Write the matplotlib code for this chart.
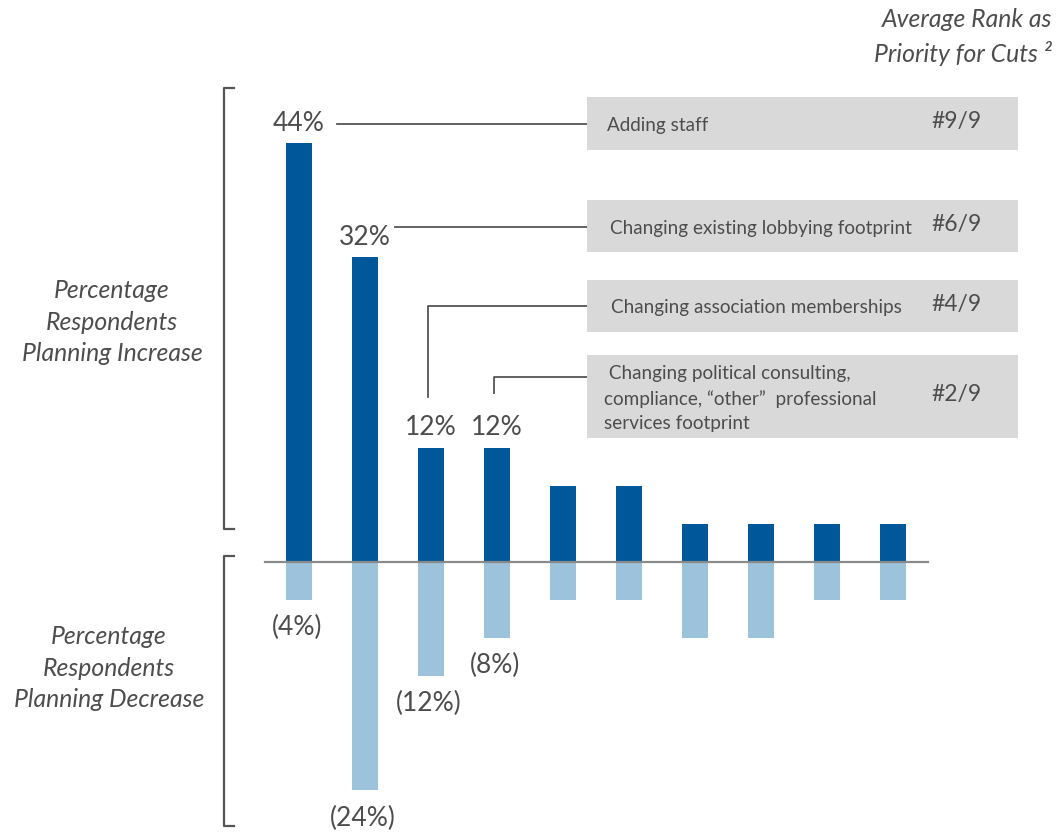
import matplotlib.pyplot as plt
from matplotlib.patches import Rectangle

# survey results, share of respondents (%)
increase = [44, 32, 12, 12, 8, 8, 4, 4, 4, 4]
decrease = [4, 24, 12, 8, 4, 4, 8, 8, 4, 4]
n_labelled = 4  # only the first four bars carry value labels

items = [
    "Adding staff",
    "Changing existing lobbying footprint",
    "Changing association memberships",
    " Changing political consulting,\ncompliance, \u201cother\u201d  professional\nservices footprint",
]
ranks = ["#9/9", "#6/9", "#4/9", "#2/9"]

DARK = "#00579a"
LIGHT = "#9cc2dc"
TXT = "#4d4d4d"
LINE = "#555555"
BOX = "#d9d9d9"

plt.rcParams["font.family"] = ["Lato", "DejaVu Sans"]

W, H = 1057, 834
fig = plt.figure(figsize=(W / 100, H / 100), dpi=100)
ax = fig.add_axes([0, 0, 1, 1])
# one bar slot = 66 px, 1 % = 9.52 px, first bar at x=299, zero line at y=562
ax.set_xlim(-299 / 66, (W - 299) / 66)
ax.set_ylim(-(H - 562) / 9.52, 562 / 9.52)
ax.axis("off")


def fx(px):
    return px / W


def fy(py):
    return 1 - py / H


def dx(px):
    return (px - 299) / 66


def dy(py):
    return (562 - py) / 9.52


idx = list(range(len(increase)))
ax.bar(idx, increase, width=0.39, color=DARK, zorder=2)
ax.bar(idx, [-d for d in decrease], width=0.39, color=LIGHT, zorder=2)
ax.axhline(0, xmin=fx(265), xmax=fx(928), color="#8a8a8a", lw=1.6, zorder=3)

for i in range(n_labelled):
    ax.text(i, increase[i] + 2.1, f"{increase[i]}%", ha="center", va="center",
            fontsize=19, color=TXT)
    ax.text(i - 0.03, -decrease[i] - 2.9, f"({decrease[i]}%)", ha="center",
            va="center", fontsize=19, color=TXT)

# grey boxes with item text and rank
box_rows = [(97, 150), (200, 252), (280, 332), (355, 438)]
text_x = [607, 610, 611, 604]
for (top, bot), label, rank, tx in zip(box_rows, items, ranks, text_x):
    fig.patches.append(Rectangle((fx(587), fy(bot)), fx(1018) - fx(587),
                                 fy(top) - fy(bot), transform=fig.transFigure,
                                 facecolor=BOX, edgecolor="none", zorder=1))
    mid = (top + bot) / 2
    fig.text(fx(tx), fy(mid + 2), label, ha="left", va="center", fontsize=13.6,
             color=TXT, linespacing=1.5)
    fig.text(fx(931), fy(mid - 2), rank, ha="left", va="center", fontsize=16.5,
             color=TXT)

# connectors from bar labels to their boxes
box_x = dx(587)
ax.plot([0.58, box_x], [dy(124), dy(124)], color=LINE, lw=1.3)
ax.plot([1.45, box_x], [dy(227), dy(227)], color=LINE, lw=1.3)
ax.plot([dx(428), dx(428), box_x], [dy(397), dy(306), dy(306)], color=LINE, lw=1.3)
ax.plot([dx(494), dx(494), box_x], [dy(393), dy(377), dy(377)], color=LINE, lw=1.3)

# brackets on the left
for top, bot in [(88, 529), (556, 826)]:
    ax.plot([fx(234), fx(224), fx(224), fx(234)], [fy(top), fy(top), fy(bot), fy(bot)],
            transform=fig.transFigure, color=LINE, lw=1.6, clip_on=False)

fig.text(fx(112), fy(322), "Percentage\nRespondents\nPlanning Increase", ha="center",
         va="center", fontsize=17.8, style="italic", color=TXT, linespacing=1.45)
fig.text(fx(109), fy(668), "Percentage\nRespondents\nPlanning Decrease", ha="center",
         va="center", fontsize=17.8, style="italic", color=TXT, linespacing=1.45)

fig.text(fx(1052), fy(37), "Average Rank as\nPriority for Cuts \u00b2", ha="right",
         va="center", fontsize=17.8, style="italic", color=TXT, linespacing=1.45)

fig.savefig("out.png", dpi=100, facecolor="white")
